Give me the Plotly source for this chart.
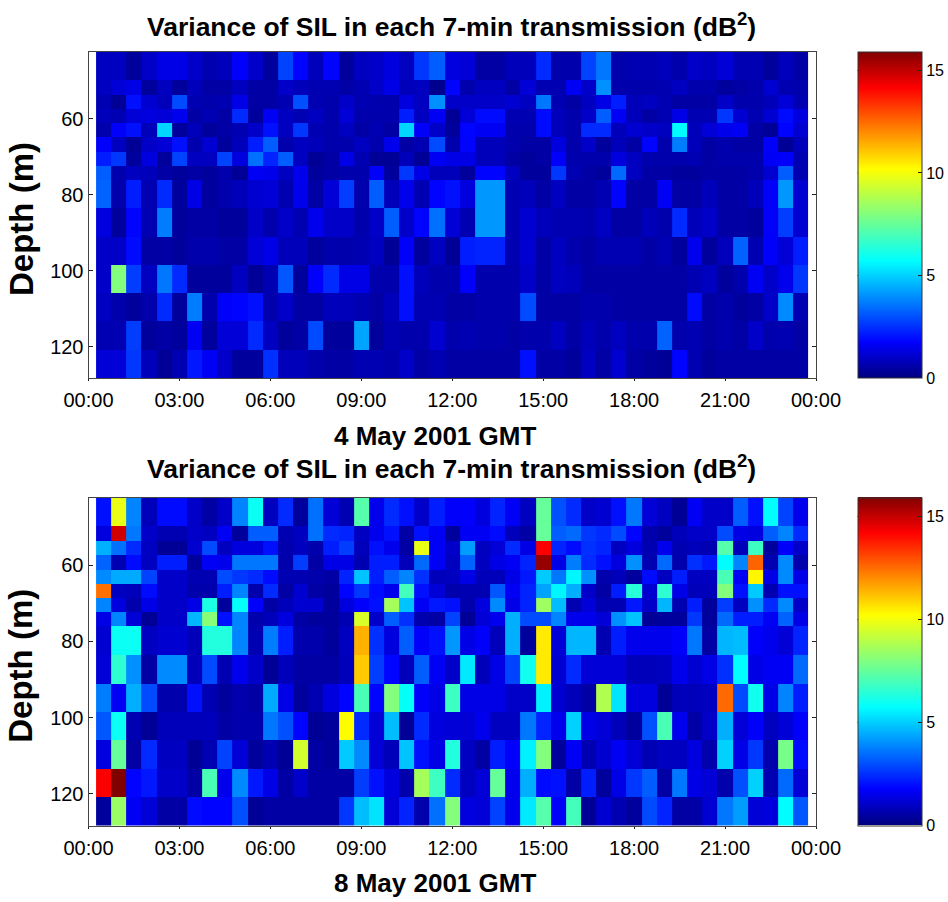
import plotly.graph_objects as go

W, H = 948, 902
depth_edges = [42.4, 49.8, 53.6, 57.4, 61.2, 64.9, 68.7, 72.4, 76.1, 83.6, 91.1, 98.5, 106.0, 113.4, 120.9, 128.3]
time_edges = [0.25 + 0.5 * i for i in range(48)]
tick_hours = [0, 3, 6, 9, 12, 15, 18, 21, 24]
tick_labels = ["00:00", "03:00", "06:00", "09:00", "12:00", "15:00", "18:00", "21:00", "00:00"]
title_text = "Variance of SIL in each 7-min transmission (dB<sup>2</sup>)"
date_labels = ["4 May 2001 GMT", "8 May 2001 GMT"]
colorbar_ticks = [0, 5, 10, 15]

may4 = [
 [.9,.9,.4,1.0,1.4,1.4,1.0,.7,.8,1.7,1.0,.4,2.8,1.8,.8,1.8,.4,.9,1.0,1.3,.9,2.6,3.2, 1.3,1.2,.5,.5,.8,.8,2.4,.6,.6,2.8,3.6,.6,.7,.7,.8,.6,1.0,.9,1.2,.7,.7,.4,.8,.5],
 [.9,1.2,1.4,.4,.9,.4,.8,.5,.5,.9,.5,.5,1.0,.8,.7,.7,.5,.7,1.0,1.4,.8,.9,.2, 1.8,.6,.9,.9,.5,1.2,.7,.7,1.6,1.0,4.0,.6,.6,.6,.7,.9,.6,.6,.4,.5,.6,1.1,.7,.6],
 [.7,.3,2.0,1.1,.8,2.9,.7,.6,.7,1.4,.5,.5,.7,3.0,.7,.6,1.0,.7,.6,.6,1.3,.9,4.0, 1.0,1.0,1.0,1.0,1.1,.9,3.6,.7,.5,.9,1.4,2.2,.8,.9,.7,.5,.5,.5,1.0,.6,.6,.8,1.2,.7],
 [.8,.7,1.2,1.3,1.2,1.5,.5,.7,.5,2.4,.4,1.6,.9,.7,.9,.6,1.2,.6,.6,.6,2.2,.9,1.6, .3,1.2,1.9,1.9,.7,.7,1.9,.8,.6,1.0,3.2,1.6,.8,.5,.7,1.4,.7,.7,2.6,1.1,.7,1.1,1.9,1.3],
 [.6,1.7,2.0,.8,5.1,.4,.8,.4,.5,.7,1.0,2.0,.9,2.6,.7,.6,.9,.5,.7,.5,5.1,1.7,1.0, .4,1.8,1.6,1.6,.6,.6,1.9,.8,.6,2.4,2.4,.8,1.1,1.0,.9,5.7,.8,1.2,1.5,1.6,.5,.3,1.8,1.1],
 [1.7,.9,.3,1.0,1.2,2.0,.6,1.1,.4,.8,2.2,3.2,.6,.9,.8,.6,.6,.9,.6,1.5,.5,.7,2.9, .6,1.8,.8,.8,.6,.5,.5,1.3,.6,1.0,.4,.8,.5,1.8,.6,3.7,.8,.5,.6,.5,.5,1.7,.3,.8],
 [2.2,2.6,.4,1.3,.4,2.8,.9,.9,2.8,1.3,3.5,2.3,3.2,.9,.3,.5,1.4,.7,.3,.3,.8,.3,1.6, 1.4,1.4,.8,.8,.5,.4,.5,1.7,.6,.6,.6,1.3,.9,.6,.6,.6,.7,.5,.6,.6,.6,1.6,1.7,.7],
 [3.2,.6,.9,.8,.5,.4,.5,.4,.6,.3,1.6,1.5,.9,1.5,.4,.5,.6,.6,1.7,.4,2.6,1.4,.8, .8,.4,1.8,1.8,.9,.4,.4,2.6,.7,.5,.4,3.4,.9,.5,.5,.4,.4,.5,.5,.5,.6,1.1,3.2,.7],
 [3.3,.6,2.2,.7,2.4,.4,1.4,.4,.6,.8,1.1,1.2,.7,1.5,.5,1.2,2.7,.6,3.2,.8,1.5,.7,1.8, 2.0,1.3,4.1,4.1,.7,.8,.5,.9,.5,.5,.7,1.8,.5,.5,1.6,.5,.5,.8,.5,.5,.8,1.7,4.1,1.1],
 [1.3,.4,1.8,.7,3.7,.4,.5,.5,.4,.4,1.0,.6,1.0,.7,1.5,1.0,1.0,.6,1.0,3.2,1.0,1.8,3.5, 1.2,.7,4.1,4.1,.7,1.1,.8,.7,.7,.6,.9,.5,.5,.8,.6,2.4,.8,1.0,.5,.5,.4,1.7,2.7,1.1],
 [1.0,1.0,1.9,.5,.5,.4,.6,.6,.5,.5,1.2,1.4,.8,.8,.4,.6,.6,.7,.9,.3,1.7,.4,.9, .3,2.2,2.3,2.3,.7,1.1,.5,.9,.6,.5,.7,.7,.7,.5,.7,.4,1.5,.4,.8,3.3,.7,1.7,1.2,2.2],
 [1.0,8.0,2.7,.9,3.6,2.4,.4,.4,.4,.9,.3,.7,3.1,.4,1.7,2.4,1.4,1.4,.6,.6,2.0,.8,.6, .6,1.7,.6,.6,.6,1.0,.5,.9,.8,.5,.5,.5,.5,.5,.5,.5,.7,.9,.4,.6,1.6,1.0,1.5,2.6],
 [.9,.6,.4,.6,2.4,.4,3.7,.6,1.7,1.8,2.0,.6,1.0,.5,.5,.8,.8,.7,.5,.8,2.0,.7,.7, .5,.5,.6,.6,.6,2.9,.5,.5,.5,.6,.6,.5,.5,.5,.5,.5,1.9,.5,.6,.4,.5,1.0,3.9,.7],
 [.7,.7,2.7,.4,.5,.4,1.6,.4,1.2,1.2,2.4,.9,.4,.5,2.9,.4,.4,4.3,.4,.7,.6,.6,1.1, .6,.7,.6,.6,.5,.6,.6,.9,.5,.8,.6,.9,.6,.6,3.3,.6,.7,.5,.6,.5,1.0,.6,.7,.5],
 [1.2,1.2,2.6,.8,.3,.7,2.1,1.6,1.0,.4,.4,2.5,.8,.8,.6,.5,.5,.7,.7,.6,1.0,.5,.7, .5,.5,.5,.5,.5,2.0,.5,.5,.4,.9,.5,1.1,.5,.4,.3,1.8,.7,.4,.5,.5,.5,.5,.5,.5],
]

may8 = [
 [2.0,9.8,3.8,.8,1.9,1.9,1.0,.5,1.0,3.8,5.9,.9,2.4,.4,3.5,1.2,.7,7.2,1.5,2.4,2.0,1.0,2.2, 1.7,1.7,1.3,2.3,1.6,.9,7.5,3.0,2.4,1.0,1.1,2.0,3.6,1.2,.9,.3,1.6,1.0,1.0,3.2,2.0,5.7,2.8,1.5],
 [1.3,14.8,3.6,1.0,.7,.7,1.0,.9,1.6,.4,3.2,3.2,.7,.9,3.5,2.4,2.3,.9,1.5,2.0,.5,2.0,1.6, .4,1.6,1.6,1.9,.8,.5,7.5,3.2,3.4,2.6,2.4,2.9,1.8,.6,.4,.8,1.0,1.0,2.9,1.4,1.3,3.2,3.8,2.4],
 [4.5,3.5,2.4,.9,.3,.3,1.1,2.9,.9,1.3,1.3,2.0,.6,.9,.6,2.2,2.7,.8,2.0,1.5,.5,9.8,1.6, 1.0,4.2,.9,1.2,2.4,1.4,14.2,2.3,1.9,2.5,2.3,.9,1.3,.7,1.5,.7,.8,.7,7.2,.8,6.8,.4,1.7,1.0],
 [3.3,.7,1.9,.9,2.2,2.2,.4,1.6,1.5,3.6,3.6,3.6,.6,2.7,.5,1.4,1.4,.7,2.2,2.2,.8,3.4,1.6, .9,3.3,.9,1.4,1.6,2.3,15.6,1.4,3.7,2.4,2.0,1.3,4.0,.7,3.4,.6,2.5,2.1,5.7,3.8,12.6,.7,3.9,.6],
 [3.9,4.4,4.4,2.8,1.0,1.0,.7,.7,2.9,2.6,2.4,1.9,.7,.7,.6,.5,2.3,4.8,2.2,3.2,3.8,2.5,.8, .9,1.4,.8,.8,1.4,2.1,4.9,3.6,5.6,4.0,.6,.8,.4,1.9,.9,2.2,.9,.9,7.0,1.6,10.3,1.4,3.9,1.4],
 [12.4,.9,.8,1.9,1.0,1.0,.6,.6,2.2,3.8,.6,2.4,.5,1.1,.5,.4,1.8,2.6,1.9,1.5,6.9,2.0,1.2, .6,.7,.7,3.1,1.6,2.3,4.3,5.6,4.5,1.0,.5,2.2,6.4,1.1,6.5,1.4,.8,.8,8.0,2.0,4.9,.7,2.0,2.0],
 [3.8,1.3,.6,1.4,1.0,1.0,1.4,6.2,.4,5.8,1.7,.5,.8,1.1,1.1,.4,1.3,1.7,2.0,8.6,4.8,1.6,2.1, 2.0,.6,1.3,3.9,1.4,2.3,8.5,4.7,.7,1.2,.7,.7,2.1,1.0,4.6,.7,2.2,.4,2.7,.9,4.0,2.4,3.9,1.0],
 [1.4,3.8,1.2,.3,1.0,1.0,4.6,8.1,2.0,3.8,.6,.8,1.3,.5,.4,.4,.7,9.5,1.0,3.2,2.5,.6,.5, 2.8,.3,1.2,1.5,4.5,2.9,2.9,3.8,1.5,1.5,1.2,4.0,4.8,.3,.4,.4,2.6,.4,3.4,2.2,2.2,1.6,3.3,1.4],
 [1.1,5.9,5.9,.9,1.1,1.1,.8,6.3,6.3,3.8,.7,3.7,2.2,.6,.6,.4,.9,11.4,2.5,1.3,3.2,1.7,2.0, 4.1,1.4,1.7,.8,4.5,.4,10.5,1.2,4.6,4.6,.7,2.2,1.5,1.5,1.5,1.7,3.6,.5,4.6,4.7,1.7,1.5,1.2,2.3],
 [1.2,6.5,4.0,.5,3.9,3.9,.8,2.9,.7,1.5,1.0,.3,.8,.5,.5,.5,.8,11.0,2.7,1.8,.8,3.2,1.6, 1.0,5.4,.8,1.4,2.8,6.0,10.5,1.1,2.4,1.2,1.2,1.2,.8,.8,.9,1.5,1.1,1.4,2.5,5.7,1.4,1.6,1.6,3.4],
 [3.7,1.6,4.5,2.9,.6,.6,2.0,.7,.4,.6,.5,4.4,1.4,.4,.7,1.3,1.8,7.0,1.8,8.0,5.8,1.7,1.4, 6.8,1.4,1.4,1.4,1.0,1.0,5.5,1.1,.8,.5,8.8,5.3,1.3,1.3,.3,.8,.8,.9,12.5,2.9,6.0,1.4,3.8,2.2],
 [3.1,5.9,.7,.3,.8,.8,.8,.8,.5,.6,.6,3.6,3.0,1.8,.3,.4,10.2,2.4,1.2,4.7,.3,2.4,1.3, 1.2,1.2,1.5,.9,.9,3.6,2.3,1.5,5.0,1.4,1.2,.8,.4,3.0,7.0,1.5,.5,1.0,4.5,1.2,1.7,.9,1.2,1.7],
 [1.3,7.5,.5,2.4,.9,.9,.3,.7,2.8,1.2,.4,.7,.3,9.4,.5,.4,4.9,3.9,1.2,.8,4.8,2.0,1.4, 6.3,.9,.5,2.2,1.7,5.5,8.0,.4,1.6,.7,1.1,1.6,1.2,.7,.9,.9,1.3,.6,5.0,1.4,2.6,.6,7.8,1.9],
 [14.2,15.9,1.8,2.1,1.0,1.0,.5,7.0,1.5,3.9,2.1,1.4,.5,1.0,.5,.5,.5,2.7,2.0,1.3,.6,8.6,6.8, 2.4,.9,1.2,7.5,1.5,4.5,1.9,2.0,.5,2.2,.4,1.4,2.6,3.2,.5,3.6,1.4,1.2,.6,3.0,5.0,.7,3.4,1.2],
 [.4,8.4,1.6,1.2,.5,.5,1.9,1.8,1.8,3.0,.3,.5,.5,.5,.5,.5,2.6,4.7,5.3,1.2,2.3,.6,3.5, 8.0,1.3,1.2,2.8,1.5,5.4,7.2,1.7,6.9,.3,1.1,.7,.4,2.9,2.3,.5,.5,1.1,3.6,4.2,1.2,1.3,5.7,3.1],
]

for m in (may4, may8):
    assert len(m) == 15 and all(len(r) == 47 for r in m), [len(r) for r in m]

jet = [
    [0.0, "rgb(0,0,128)"], [0.11, "rgb(0,0,255)"], [0.36, "rgb(0,255,255)"],
    [0.5, "rgb(128,255,128)"], [0.64, "rgb(255,255,0)"], [0.89, "rgb(255,0,0)"], [1.0, "rgb(128,0,0)"],
]
FONT = "Liberation Sans"
INK = "#000000"
ZMAX = 15.9
x0, x1 = 88.5, 816.0
cb_left, cb_width = 857.5, 64
panels = [(52.0, 378.0, may4, date_labels[0], 25.0, 436.0),
          (498.0, 825.5, may8, date_labels[1], 467.0, 883.0)]

fig = go.Figure()
anns = []
shapes = []
for i, (top, bot, z, date, ty, dy) in enumerate(panels, start=1):
    fig.add_trace(go.Heatmap(
        x=time_edges, y=depth_edges, z=z, zmin=0, zmax=ZMAX, colorscale=jet,
        xaxis=f"x{i}", yaxis=f"y{i}", hoverongaps=False,
        colorbar=dict(
            x=cb_left / W, xanchor="left", xpad=0, thickness=cb_width, thicknessmode="pixels",
            y=1 - bot / H, yanchor="bottom", ypad=0, len=bot - top, lenmode="pixels",
            outlinecolor="#333333", outlinewidth=1, tickvals=colorbar_ticks, ticks="inside",
            ticklen=4, tickcolor="#222222", tickfont=dict(family=FONT, size=16, color=INK),
        ),
    ))
    axis_x = dict(domain=[x0 / W, x1 / W], range=[0, 24], tickvals=tick_hours, ticktext=tick_labels,
                  ticks="outside", ticklen=2, tickcolor="#222222", showgrid=False, zeroline=False,
                  showline=True, mirror=True, linecolor="#444444", linewidth=1, ticklabelstandoff=2,
                  tickfont=dict(family=FONT, size=20, color=INK), anchor=f"y{i}")
    axis_y = dict(domain=[1 - bot / H, 1 - top / H], range=[128.3, 42.4], tickvals=[60, 80, 100, 120],
                  ticks="inside", ticklen=4, tickcolor="#222222", showgrid=False, zeroline=False,
                  showline=True, mirror="ticks", linecolor="#444444", linewidth=1,
                  tickfont=dict(family=FONT, size=20, color=INK), anchor=f"x{i}")
    fig.update_layout({f"xaxis{i}": axis_x, f"yaxis{i}": axis_y})
    anns += [
        dict(text=f"<b>{title_text}</b>", x=451 / W, y=1 - ty / H, xref="paper", yref="paper", showarrow=False,
             xanchor="center", yanchor="middle", font=dict(family=FONT, size=26.5, color=INK)),
        dict(text=f"<b>{date}</b>", x=435 / W, y=1 - dy / H, xref="paper", yref="paper", showarrow=False,
             xanchor="center", yanchor="middle", font=dict(family=FONT, size=26, color=INK)),
        dict(text="<b>Depth (m)</b>", x=21 / W, y=1 - ((top + bot) / 2 + 4) / H, xref="paper", yref="paper",
             showarrow=False, textangle=-90, xanchor="center", yanchor="middle",
             font=dict(family=FONT, size=33, color=INK)),
    ]
    # left-hand colorbar tick marks, mirroring plotly's right-hand ones
    for v in colorbar_ticks[1:]:
        py = bot - v / ZMAX * (bot - top)
        shapes.append(dict(type="line", xref="paper", yref="paper", x0=cb_left / W, x1=(cb_left + 4) / W,
                           y0=1 - py / H, y1=1 - py / H, line=dict(color="#222222", width=1)))

fig.update_layout(width=W, height=H, margin=dict(l=0, r=0, t=0, b=0, autoexpand=False), paper_bgcolor="white",
                  plot_bgcolor="white", annotations=anns, shapes=shapes, showlegend=False)
fig.write_html("out.html", post_script="document.body.style.margin='0';", config={"displayModeBar": False})
